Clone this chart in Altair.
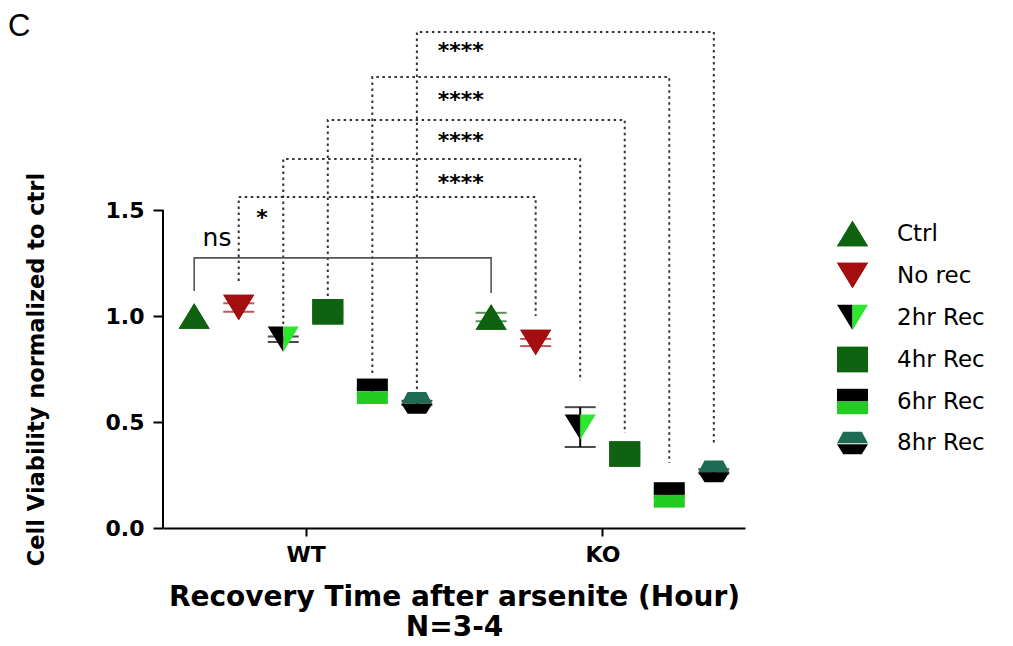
import altair as alt
import pandas as pd

# ---------------- data ----------------
genotypes = ["WT", "KO"]
groups = ["Ctrl", "No rec", "2hr Rec", "4hr Rec", "6hr Rec", "8hr Rec"]
wt_mean = [1.00, 1.04, 0.89, 1.02, 0.645, 0.59]
wt_sem = [0.0, 0.02, 0.013, 0.01, 0.012, 0.01]
ko_mean = [0.995, 0.875, 0.476, 0.349, 0.156, 0.267]
ko_sem = [0.02, 0.017, 0.094, 0.01, 0.01, 0.01]

# WT vs KO comparisons (same condition)
cmp_groups = ["No rec", "2hr Rec", "4hr Rec", "6hr Rec", "8hr Rec"]
cmp_level = [1.561, 1.741, 1.925, 2.127, 2.340]
cmp_wt_end = [1.165, 0.962, 1.094, 0.731, 0.656]
cmp_ko_end = [1.000, 0.693, 0.448, 0.307, 0.387]
cmp_label = ["*", "****", "****", "****", "****"]
cmp_label_x = [0.853, 1.523, 1.523, 1.523, 1.523]
cmp_label_y = [1.486, 1.651, 1.849, 2.042, 2.274]

ns_group = "Ctrl"
ns_level = 1.274
ns_wt_end = 1.118
ns_ko_end = 1.108
ns_label = "ns"
ns_label_x = 0.702
ns_label_y = 1.358

y_ticks = [0.0, 0.5, 1.0, 1.5]

# ---------------- styles ----------------
DG = "#0f620f"
RED = "#a50e0e"
BLK = "#000000"
LG = "#2ee62e"
LG2 = "#22cc22"
TEAL = "#1d6a55"

tri_up = "M0,-0.82L1,0.82L-1,0.82Z"
tri_dn = "M-1,-0.82L1,-0.82L0,0.82Z"
tri_dn_l = "M-1,-0.82L0,-0.82L0,0.82Z"
tri_dn_r = "M0,-0.82L1,-0.82L0,0.82Z"
sq = "M-1,-0.82L1,-0.82L1,0.82L-1,0.82Z"
sq_top = "M-1,-0.82L1,-0.82L1,0L-1,0Z"
sq_bot = "M-1,0L1,0L1,0.82L-1,0.82Z"
hex_top = "M-0.6,-0.7L0.6,-0.7L1,0.05L-1,0.05Z"
hex_bot = "M-1,0.05L1,0.05L0.6,0.7L-0.6,0.7Z"

paths_a = [tri_up, tri_dn, tri_dn_l, sq, sq_top, hex_top]
fills_a = [DG, RED, BLK, DG, BLK, TEAL]
paths_b = [tri_up, tri_dn, tri_dn_r, sq, sq_bot, hex_bot]
fills_b = [DG, RED, LG, DG, LG2, BLK]
err_colors = [DG, RED, BLK, DG, BLK, BLK]

ITEM_STEP = 0.15
PX_PER_UNIT = 212.0
W, H = 582, 513
FONT = "DejaVu Sans"


def xpos(gen, grp):
    return genotypes.index(gen) + 1 + (groups.index(grp) - 2.5) * ITEM_STEP


rows = []
for gen, means, sems in [("WT", wt_mean, wt_sem), ("KO", ko_mean, ko_sem)]:
    for grp, m, s in zip(groups, means, sems):
        rows.append({"genotype": gen, "group": grp, "mean": m, "sem": s,
                     "lo": m - s, "hi": m + s, "x": xpos(gen, grp)})
df = pd.DataFrame(rows)

# dotted brackets
brows = []
for i, grp in enumerate(cmp_groups):
    xa, xb = xpos("WT", grp), xpos("KO", grp)
    pts = [(xa, cmp_wt_end[i]), (xa, cmp_level[i]), (xb, cmp_level[i]), (xb, cmp_ko_end[i])]
    for o, (xx, yy) in enumerate(pts):
        brows.append({"id": grp, "o": o, "x": xx, "y": yy})
bdf = pd.DataFrame(brows)

xa, xb = xpos("WT", ns_group), xpos("KO", ns_group)
ns_df = pd.DataFrame({"o": [0, 1, 2, 3], "x": [xa, xa, xb, xb],
                      "y": [ns_wt_end, ns_level, ns_level, ns_ko_end]})

lab_df = pd.DataFrame({"t": cmp_label, "x": cmp_label_x, "y": cmp_label_y})
nslab_df = pd.DataFrame({"t": [ns_label], "x": [ns_label_x], "y": [ns_label_y]})

xscale = alt.Scale(domain=[0.52, 2.48], nice=False, zero=False)
yscale = alt.Scale(domain=[0, H / PX_PER_UNIT], nice=False, zero=True)

label_expr = "['" + "','".join(genotypes) + "'][datum.value - 1]"

xaxis = alt.Axis(values=[1, 2], labelExpr=label_expr, grid=False,
                 domain=True, domainColor="black", domainWidth=2,
                 ticks=True, tickSize=8, tickWidth=2, tickColor="black",
                 labelFont=FONT, labelFontSize=22, labelFontWeight="bold",
                 labelColor="black", labelPadding=8,
                 title=["Recovery Time after arsenite (Hour)", "N=3-4"],
                 titleFont=FONT, titleFontSize=28, titleFontWeight="bold",
                 titleColor="black", titleLineHeight=30, titlePadding=18)
yaxis = alt.Axis(values=y_ticks, format=".1f", grid=False, domain=False,
                 ticks=True, tickSize=10, tickWidth=2, tickColor="black",
                 labelFont=FONT, labelFontSize=22, labelFontWeight="bold",
                 labelColor="black", labelPadding=9,
                 title="Cell Viability  normalized to ctrl",
                 titleFont=FONT, titleFontSize=22.5, titleFontWeight="bold",
                 titleColor="black", titleX=-127, titleY=H - 0.75 * PX_PER_UNIT,
                 titleAngle=-90, titleBaseline="middle", titleAlign="center")

X = alt.X("x:Q", scale=xscale, axis=xaxis)
Y = alt.Y("mean:Q", scale=yscale, axis=yaxis)

base = alt.Chart(df)

# y axis line from 0 to 1.5
yline = alt.Chart(pd.DataFrame({"a": [0]})).mark_rule(color="black", strokeWidth=2).encode(
    x=alt.value(0), y=alt.datum(y_ticks[0], scale=yscale), y2=alt.datum(y_ticks[-1]))

err_base = base.transform_filter("datum.sem > 0")
err_color = alt.Color("group:N", scale=alt.Scale(domain=groups, range=err_colors), legend=None)
err_rule = err_base.mark_rule(strokeWidth=2).encode(
    x=alt.X("x:Q", scale=xscale), y=alt.Y("lo:Q", scale=yscale), y2="hi:Q", color=err_color)
cap_lo = err_base.mark_tick(orient="horizontal", size=31, thickness=2).encode(
    x=alt.X("x:Q", scale=xscale), y=alt.Y("lo:Q", scale=yscale), color=err_color)
cap_hi = err_base.mark_tick(orient="horizontal", size=31, thickness=2).encode(
    x=alt.X("x:Q", scale=xscale), y=alt.Y("hi:Q", scale=yscale), color=err_color)


def legend(hidden):
    return alt.Legend(orient="none", legendX=674, legendY=203, title=None,
                      symbolSize=961, symbolStrokeWidth=0, symbolOpacity=1,
                      labelFont=FONT, labelFontSize=23, labelColor="black",
                      labelOpacity=0 if hidden else 1, labelOffset=29,
                      rowPadding=13, padding=0, labelLimit=300)


def markers(paths, fills, hidden):
    lg = legend(hidden)
    return base.mark_point(filled=True, opacity=1, strokeWidth=0, size=961).encode(
        x=X, y=Y,
        shape=alt.Shape("group:N", scale=alt.Scale(domain=groups, range=paths), legend=lg),
        fill=alt.Fill("group:N", scale=alt.Scale(domain=groups, range=fills), legend=lg),
    )


pts_a = markers(paths_a, fills_a, False)
pts_b = markers(paths_b, fills_b, True)

brackets = alt.Chart(bdf).mark_line(color="#333333", strokeWidth=2, strokeDash=[2.5, 3.5]).encode(
    x=alt.X("x:Q", scale=xscale), y=alt.Y("y:Q", scale=yscale), detail="id:N", order="o:Q")
ns_line = alt.Chart(ns_df).mark_line(color="#555555", strokeWidth=1.6).encode(
    x=alt.X("x:Q", scale=xscale), y=alt.Y("y:Q", scale=yscale), order="o:Q")

stars = alt.Chart(lab_df).mark_text(font=FONT, fontSize=22, fontWeight="bold", color="black",
                                    baseline="middle", dy=5).encode(
    x=alt.X("x:Q", scale=xscale), y=alt.Y("y:Q", scale=yscale), text="t:N")
ns_text = alt.Chart(nslab_df).mark_text(font=FONT, fontSize=25, color="black",
                                        baseline="middle", dy=-2).encode(
    x=alt.X("x:Q", scale=xscale), y=alt.Y("y:Q", scale=yscale), text="t:N")

panel = alt.Chart(pd.DataFrame({"t": ["C"]})).mark_text(
    font="Liberation Sans", fontSize=31, color="black", align="left", baseline="top").encode(
    x=alt.value(-155), y=alt.value(-3), text="t:N")

chart = alt.layer(
    yline, brackets, ns_line, err_rule, cap_lo, cap_hi, pts_a, pts_b, stars, ns_text, panel
).resolve_scale(shape="independent", fill="independent").properties(
    width=W, height=H, padding={"left": 0, "top": 3, "right": 5, "bottom": 0}
).configure_view(stroke=None)

chart.save("out.html", embed_options={"renderer": "svg", "actions": False})
